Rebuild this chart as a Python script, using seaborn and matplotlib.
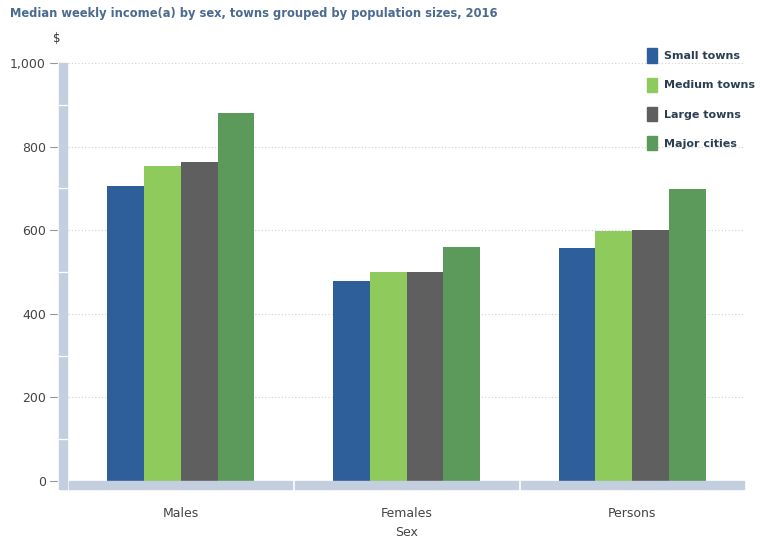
import matplotlib
matplotlib.use("Agg")
import matplotlib.pyplot as plt
import seaborn as sns
import pandas as pd
from matplotlib.patches import Rectangle
from matplotlib.lines import Line2D

categories = ["Males", "Females", "Persons"]
series_names = ["Small towns", "Medium towns", "Large towns", "Major cities"]
small_towns = [706, 478, 557]
medium_towns = [754, 500, 598]
large_towns = [763, 500, 600]
major_cities = [880, 560, 698]
colors = ["#2f5f9a", "#8fca5c", "#605f60", "#5b9a5a"]
yticks = [0, 200, 400, 600, 800, 1000]
ytick_labels = ["0", "200", "400", "600", "800", "1,000"]

rows = []
for name, vals in zip(series_names, [small_towns, medium_towns, large_towns, major_cities]):
    for c, v in zip(categories, vals):
        rows.append({"Sex": c, "Type": name, "Value": v})
df = pd.DataFrame(rows)

sns.set_theme(style="white")
plt.rcParams['font.family'] = ['DejaVu Sans']

W, H = 760, 540
fig = plt.figure(figsize=(W / 100, H / 100), dpi=100)
L, R, T, B = 68, 745, 63, 481
ax = fig.add_axes([L / W, 1 - B / H, (R - L) / W, (B - T) / H])

sns.barplot(data=df, x="Sex", y="Value", hue="Type", order=categories,
            hue_order=series_names, palette=colors, saturation=1,
            width=0.65, ax=ax, legend=False, linewidth=0)

ax.set_ylim(0, 1000)
ax.set_xlim(-0.5, 2.5)
for s in ax.spines.values():
    s.set_visible(False)
for y in [200, 400, 600, 800, 1000]:
    ax.axhline(y, color="#d0d0d0", lw=0.8, ls=(0, (1, 2)), zorder=0)

ax.set_yticks(yticks)
ax.set_yticklabels(ytick_labels, fontsize=9, color="#444444")
ax.tick_params(axis="y", length=0, pad=16)
ax.tick_params(axis="x", length=0, pad=19, labelsize=9, labelcolor="#444444")
ax.set_xlabel("Sex", fontsize=9, color="#444444", labelpad=4)
ax.set_ylabel("")

axw, axh = R - L, B - T
band = "#c3cfdf"
# y band
ax.add_patch(Rectangle((-9 / axw, -8 / axh), 8 / axw, (axh + 8) / axh,
                       transform=ax.transAxes, color=band, clip_on=False, zorder=3))
for y in [100, 300, 500, 700, 900]:
    fy = y / 1000
    ax.add_line(Line2D([-9 / axw, -1 / axw], [fy, fy], transform=ax.transAxes,
                       color="white", lw=1, clip_on=False, zorder=4))
# y tick marks
for y in yticks:
    fy = y / 1000
    ax.add_line(Line2D([-18 / axw, -11 / axw], [fy, fy], transform=ax.transAxes,
                       color="#999999", lw=0.8, clip_on=False, zorder=4))
# x band segments
for i in range(3):
    ax.add_patch(Rectangle((i - 0.5 + (0.006 if i > 0 else 0.003), -8 / axh),
                           1 - 0.012, 8 / axh,
                           transform=ax.get_xaxis_transform(), color=band,
                           clip_on=False, zorder=3))

# title and unit
fig.text(10 / W, 1 - 14 / H, "Median weekly income(a) by sex, towns grouped by population sizes, 2016",
         fontsize=8.3, fontweight="bold", color="#4a6a8f", va="center", ha="left")
fig.text(57 / W, 1 - 38 / H, "$", fontsize=8.5, color="#333333", va="center", ha="center")

# legend
handles = [Rectangle((0, 0), 1, 1, color=c) for c in colors]
leg = fig.legend(handles, series_names, loc="upper left",
                 bbox_to_anchor=(643 / W, 1 - 44 / H), frameon=False,
                 prop={"size": 8.0, "weight": "bold"}, labelcolor="#2b3e52",
                 handlelength=0.9, handleheight=1.65, labelspacing=1.3,
                 handletextpad=0.55, borderaxespad=0)

fig.savefig("out.png", dpi=100, facecolor="white")
